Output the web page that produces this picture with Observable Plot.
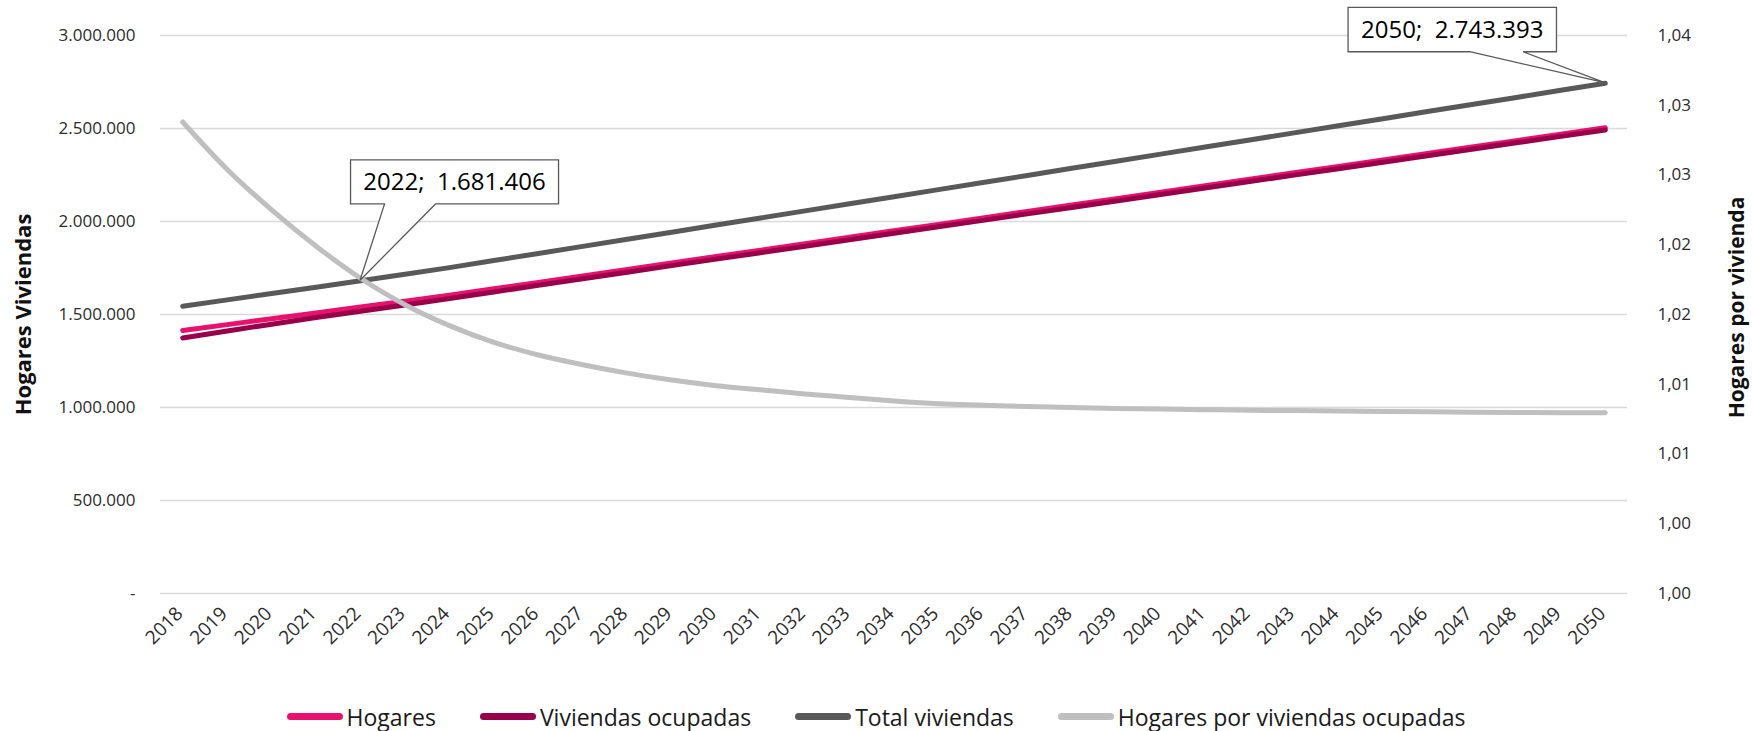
<!DOCTYPE html>
<html>
<head>
<meta charset="utf-8">
<script src="https://cdn.jsdelivr.net/npm/d3@7"></script>
<script src="https://cdn.jsdelivr.net/npm/@observablehq/plot@0.6"></script>
<style>
  html, body { margin: 0; padding: 0; background: #fff; }
  body { font-family: "Open Sans", sans-serif; width: 1752px; }
  #legend { display: flex; justify-content: center; align-items: center; gap: 44px; height: 51px; padding-top: 11px; width: 1752px; color: #1a1a1a; font-size: 23px; }
  .item { display: flex; align-items: center; }
  .sw { width: 56px; height: 7px; border-radius: 4px; margin-right: 4px; }
</style>
</head>
<body>
<div id="chart"></div>
<div id="legend"></div>
<script>
const years = [2018,2019,2020,2021,2022,2023,2024,2025,2026,2027,2028,2029,2030,2031,2032,2033,2034,2035,2036,2037,2038,2039,2040,2041,2042,2043,2044,2045,2046,2047,2048,2049,2050];

const hogares = [1414000,1445500,1477000,1508500,1540000,1571500,1603500,1638100,1672800,1707400,1742000,1776700,1811300,1845900,1880600,1915200,1949900,1984500,2019100,2053800,2088400,2123000,2157700,2192300,2227000,2261600,2296200,2330900,2365500,2400100,2434800,2469400,2504000];

const viviendasOcupadas = [1374000,1411500,1448000,1483500,1518000,1551500,1585500,1621100,1656800,1692400,1727500,1762700,1797600,1832400,1867200,1901900,1936700,1971400,2006100,2040900,2075600,2110300,2145100,2179800,2214600,2249300,2284000,2318800,2353500,2388200,2423000,2457700,2492400];

const totalViviendas = [1544600,1578500,1612600,1646900,1681406,1716500,1752000,1790200,1828300,1866400,1904500,1942700,1980800,2018900,2057000,2095200,2133300,2171400,2209600,2247700,2285800,2324000,2362100,2400200,2438300,2476500,2514600,2552700,2590900,2629000,2667100,2705200,2743393];

const hogaresPorVivienda = [1.0338,1.0304,1.0275,1.0249,1.0226,1.0207,1.0192,1.0180,1.0171,1.0164,1.0158,1.0153,1.0149,1.0146,1.0143,1.01405,1.0138,1.0136,1.0135,1.0134,1.01333,1.01327,1.01322,1.01318,1.01314,1.01311,1.01308,1.01305,1.01302,1.0130,1.01298,1.01296,1.01295];

const leftTicks = [0,500000,1000000,1500000,2000000,2500000,3000000];
const leftTickLabels = ["-","500.000","1.000.000","1.500.000","2.000.000","2.500.000","3.000.000"];
const rightTicks = [1.000,1.005,1.010,1.015,1.020,1.025,1.030,1.035,1.040];
const rightTickLabels = ["1,00","1,00","1,01","1,01","1,02","1,02","1,03","1,03","1,04"];

const seriesNames = ["Hogares","Viviendas ocupadas","Total viviendas","Hogares por viviendas ocupadas"];
const seriesColors = ["#E8126E","#99004C","#595959","#BFBFBF"];

const leftTitle = "Hogares Viviendas";
const rightTitle = "Hogares por vivienda";

const annotationYears = [2022, 2050];
const annotationLabels = ["2022;  1.681.406", "2050;  2.743.393"];

// secondary axis -> primary axis mapping
const leftMax = 3000000, rightMin = 1.0, rightMax = 1.04;
const toLeft = v => (v - rightMin) / (rightMax - rightMin) * leftMax;
const rightTicksMapped = rightTicks.map(toLeft);

const rows = s => years.map((y, i) => ({year: y, value: s[i]}));
const grayRows = years.map((y, i) => ({year: y, value: toLeft(hogaresPorVivienda[i])}));

// callout geometry (offsets from the anchored data point, px)
const callouts = [
  {box: [-9.5, 198.5, -120.3, -76.3], base: [24.5, 75.5]},
  {box: [-256.7, -48.3, -75.4, -31], base: [-135, -81.7]}
];

function calloutMark(index, scales) {
  const g = d3.create("svg:g");
  annotationYears.forEach((yr, k) => {
    const i = years.indexOf(yr);
    const px = scales.x(yr), py = scales.y(totalViviendas[i]);
    const c = callouts[k];
    const [x0, x1, y0, y1] = c.box.map((d, j) => (j < 2 ? px : py) + d);
    const b0 = px + c.base[0], b1 = px + c.base[1];
    const pts = [[x0, y0], [x1, y0], [x1, y1], [Math.max(b0, b1), y1], [px, py], [Math.min(b0, b1), y1], [x0, y1]];
    g.append("path")
      .attr("d", "M" + pts.map(p => p.join(",")).join("L") + "Z")
      .attr("fill", "#fff").attr("stroke", "#595959").attr("stroke-width", 1.3)
      .attr("stroke-linejoin", "miter");
    g.append("text")
      .attr("x", (x0 + x1) / 2).attr("y", (y0 + y1) / 2)
      .attr("dy", "0.35em").attr("text-anchor", "middle")
      .attr("font-size", 24).attr("fill", "#000")
      .attr("font-family", "Open Sans")
      .style("white-space", "pre")
      .text(annotationLabels[k]);
  });
  return g.node();
}

const lineOpts = {x: "year", y: "value", strokeWidth: 5, strokeLinecap: "round", strokeLinejoin: "round"};

const chart = Plot.plot({
  width: 1752,
  height: 680,
  marginLeft: 160,
  marginRight: 125,
  marginTop: 35,
  marginBottom: 87,
  style: {fontFamily: "Open Sans", fontSize: "17px", color: "#2b2b2b", background: "#fff"},
  x: {type: "point", domain: years, padding: 0.5, round: false, label: null},
  y: {domain: [0, leftMax], label: null},
  marks: [
    Plot.gridY(leftTicks, {stroke: "#D9D9D9", strokeOpacity: 1, strokeWidth: 1.4}),
    Plot.axisY({anchor: "left", ticks: leftTicks, tickFormat: d => leftTickLabels[leftTicks.indexOf(d)], tickSize: 0, tickPadding: 25, fontSize: 17, label: null}),
    Plot.axisY({anchor: "right", ticks: rightTicksMapped, tickFormat: d => rightTickLabels[rightTicksMapped.indexOf(d)], tickSize: 0, tickPadding: 30, fontSize: 17, label: null}),
    Plot.axisX({ticks: years, tickFormat: d => String(d), tickRotate: -45, tickSize: 0, tickPadding: 17, dx: -3, fontSize: 19, label: null}),
    Plot.line(rows(hogares), {...lineOpts, stroke: seriesColors[0]}),
    Plot.line(rows(viviendasOcupadas), {...lineOpts, stroke: seriesColors[1]}),
    Plot.line(rows(totalViviendas), {...lineOpts, stroke: seriesColors[2]}),
    Plot.line(grayRows, {...lineOpts, stroke: seriesColors[3], curve: "catmull-rom"}),
    Plot.text([leftTitle], {text: d => d, frameAnchor: "left", textAnchor: "middle", dx: -137, rotate: -90, fontSize: 22, fontWeight: "bold", fill: "#111"}),
    Plot.text([rightTitle], {text: d => d, frameAnchor: "right", textAnchor: "middle", dx: 110, dy: -7, rotate: -90, fontSize: 21, fontWeight: "bold", fill: "#111"}),
    calloutMark
  ]
});
document.getElementById("chart").appendChild(chart);

const legend = d3.select("#legend");
seriesNames.forEach((name, i) => {
  const it = legend.append("div").attr("class", "item");
  it.append("span").attr("class", "sw").style("background", seriesColors[i]);
  it.append("span").text(name);
});
</script>
</body>
</html>
